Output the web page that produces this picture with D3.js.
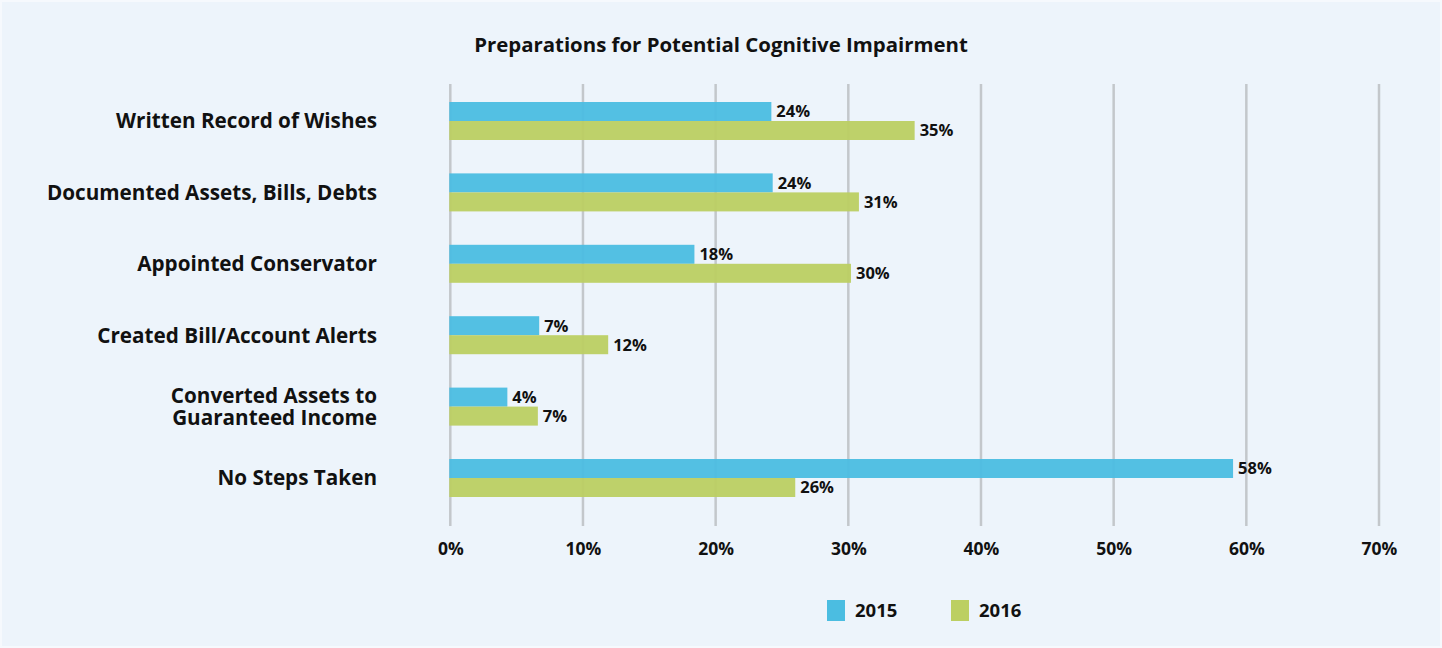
<!DOCTYPE html>
<html>
<head>
<meta charset="utf-8">
<script src="https://cdn.jsdelivr.net/npm/d3@7"></script>
<style>
  body { margin: 0; background: #fff; }
  #chart { width: 1442px; height: 648px; }
  text { font-family: "Open Sans", sans-serif; font-weight: bold; fill: #111; }
</style>
</head>
<body>
<div id="chart"></div>
<script>
var categories = [
  ['Written Record of Wishes'],
  ['Documented Assets, Bills, Debts'],
  ['Appointed Conservator'],
  ['Created Bill/Account Alerts'],
  ['Converted Assets to', 'Guaranteed Income'],
  ['No Steps Taken']
];
var series = ['2015', '2016'];
var values2015 = [24.2, 24.3, 18.4, 6.7, 4.3, 59.0];
var values2016 = [35.0, 30.8, 30.2, 11.9, 6.6, 26.0];
var labels2015 = ['24%', '24%', '18%', '7%', '4%', '58%'];
var labels2016 = ['35%', '31%', '30%', '12%', '7%', '26%'];
var xTicks = [0, 10, 20, 30, 40, 50, 60, 70];
var colors = ['#4bbde1', '#bccf62'];

var width = 1442, height = 648;

var svg = d3.select('#chart')
  .append('svg')
  .attr('width', width)
  .attr('height', height);

svg.append('rect')
  .attr('x', 1).attr('y', 1)
  .attr('width', width - 2).attr('height', height - 2)
  .attr('fill', '#edf4fb')
  .attr('stroke', '#f6f9fd')
  .attr('stroke-width', 2);

svg.append('text')
  .attr('x', 721).attr('y', 52)
  .attr('text-anchor', 'middle')
  .style('font-size', '20.4px')
  .text('Preparations for Potential Cognitive Impairment');

var x = d3.scaleLinear().domain([0, 70]).range([450.3, 1379]);
var y = d3.scaleBand().domain(d3.range(categories.length)).range([85.3, 513.7]);

// gridlines
svg.append('g')
  .selectAll('line')
  .data(xTicks)
  .join('line')
  .attr('x1', function(d) { return x(d); })
  .attr('x2', function(d) { return x(d); })
  .attr('y1', 84).attr('y2', 526)
  .attr('stroke', '#c3c7cb')
  .attr('stroke-width', 2.5);

// x axis labels
var xAxis = d3.axisBottom(x)
  .tickValues(xTicks)
  .tickFormat(function(d) { return d + '%'; })
  .tickSize(0)
  .tickPadding(0);

var gx = svg.append('g')
  .attr('transform', 'translate(0,555)')
  .call(xAxis);
gx.select('.domain').remove();
gx.selectAll('text')
  .style('font-size', '17.5px')
  .style('font-family', '"Open Sans", sans-serif')
  .attr('fill', '#111')
  .attr('dy', null)
  .attr('y', 0);

// category labels
var catSize = 20.7;
var cat = svg.append('g').selectAll('text')
  .data(categories)
  .join('text')
  .attr('x', 377)
  .attr('y', function(d, i) { return y(i) + y.bandwidth() / 2; })
  .attr('text-anchor', 'end')
  .style('font-size', catSize + 'px');
cat.selectAll('tspan')
  .data(function(d) { return d.map(function(t, j) { return { t: t, j: j, n: d.length }; }); })
  .join('tspan')
  .attr('x', 377)
  .attr('dy', function(d) {
    if (d.n === 1) return '0.36em';
    return d.j === 0 ? '-0.17em' : '1.04em';
  })
  .text(function(d) { return d.t; });

var barH = 19;
var allValues = [values2015, values2016];
var allLabels = [labels2015, labels2016];

series.forEach(function(s, k) {
  var g = svg.append('g');
  g.selectAll('rect')
    .data(allValues[k])
    .join('rect')
    .attr('x', x(0) - 1)
    .attr('y', function(d, i) { return y(i) + y.bandwidth() / 2 - barH + k * barH; })
    .attr('width', function(d) { return x(d) - x(0) + 1; })
    .attr('height', barH)
    .attr('fill', colors[k])
    .attr('fill-opacity', 0.95);
  g.selectAll('text')
    .data(allValues[k])
    .join('text')
    .attr('x', function(d) { return x(d) + 5; })
    .attr('y', function(d, i) { return y(i) + y.bandwidth() / 2 - barH / 2 + k * barH; })
    .attr('dy', '0.36em')
    .style('font-size', '16.5px')
    .text(function(d, i) { return allLabels[k][i]; });
});

// legend
var legend = svg.append('g').selectAll('g')
  .data(series)
  .join('g')
  .attr('transform', function(d, i) { return 'translate(' + (827 + i * 124) + ',600)'; });
legend.append('rect')
  .attr('width', 18).attr('height', 21)
  .attr('fill', function(d, i) { return colors[i]; });
legend.append('text')
  .attr('x', 28).attr('y', 10.5)
  .attr('dy', '0.36em')
  .style('font-size', '18.5px')
  .text(function(d) { return d; });
</script>
</body>
</html>
